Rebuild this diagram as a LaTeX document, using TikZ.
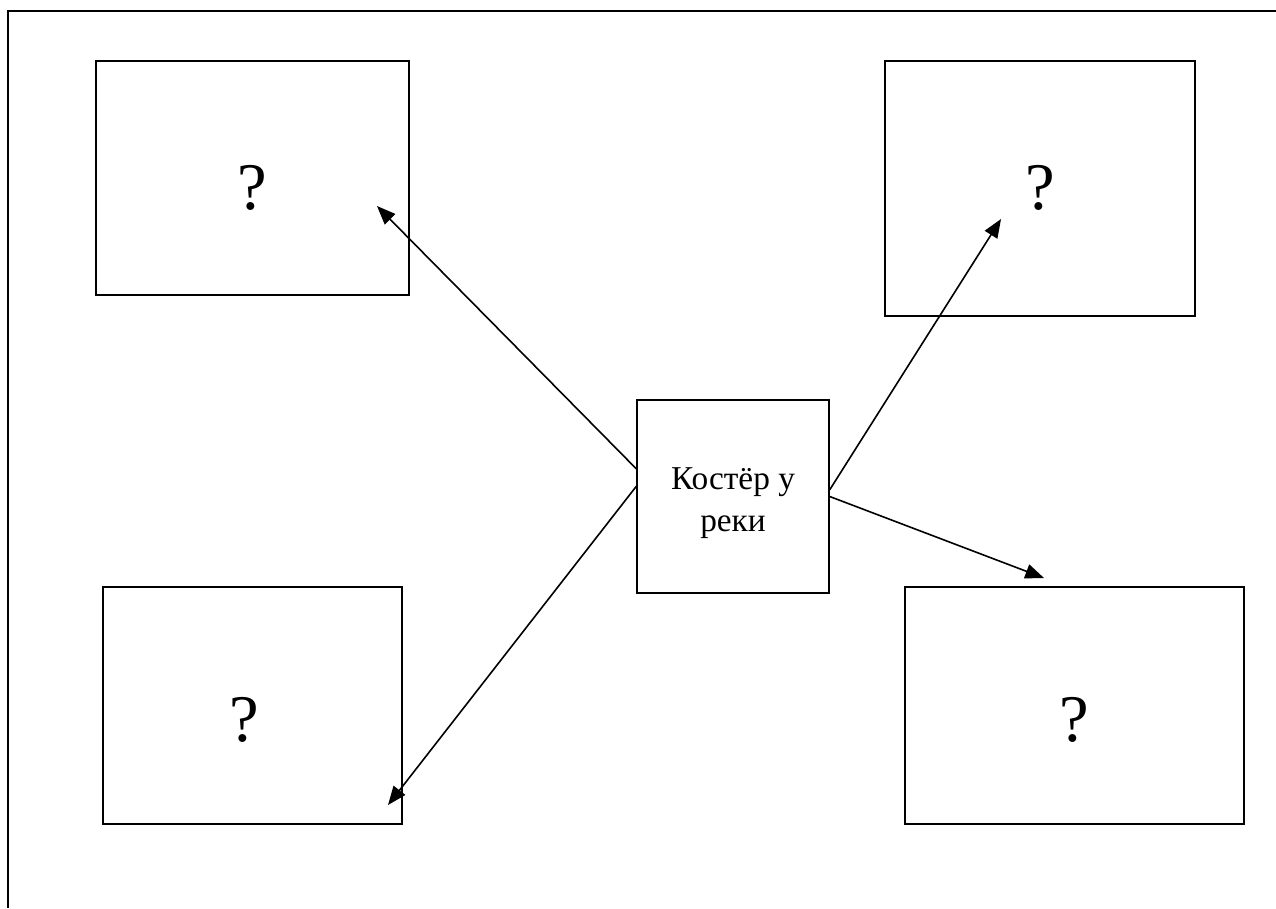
\documentclass[tikz,border=0pt]{standalone}
\usepackage{fontspec}
\setmainfont{Liberation Serif}
\usetikzlibrary{arrows.meta, calc}

\begin{document}
\begin{tikzpicture}[
    x=0.75pt, y=-0.75pt,
    >={Triangle[length=14pt, width=11pt]},
    box/.style={draw, line width=1.1pt, inner sep=0pt},
    ask/.style={font=\fontsize{50}{60}\selectfont},
    link/.style={->, line width=1.2pt}
]

\useasboundingbox (0,0) rectangle (1276,908);

% --- Outer frame (only top and left edges fall on the page) ---
\draw[line width=1.6pt] (8,908) -- (8,11) -- (1276,11);

% --- Boxes (pixel coordinates of the sheet) ---
\node[box, minimum width=313*0.75pt, minimum height=234*0.75pt] (tl) at (252.5,178) {};
\node[box, minimum width=310*0.75pt, minimum height=255*0.75pt] (tr) at (1040,188.5) {};
\node[box, minimum width=299*0.75pt, minimum height=237*0.75pt] (bl) at (252.5,705.5) {};
\node[box, minimum width=339*0.75pt, minimum height=237*0.75pt] (br) at (1074.5,705.5) {};

% --- Question marks ---
\node[ask] (qtl) at (252,188) {?};
\node[ask] (qtr) at (1040,188) {?};
\node[ask] (qbl) at (244,720) {?};
\node[ask] (qbr) at (1074,720) {?};

% --- Center box ---
\node[box, minimum width=192*0.75pt, minimum height=193*0.75pt] (ctr) at (733,496.5) {};
\node[align=center, font=\fontsize{25}{32}\selectfont] (txt) at (733,503)
    {Костёр у\\реки};

% --- Free ends of the arrows ---
\coordinate (etl) at (377,206);
\coordinate (etr) at (1001,219);
\coordinate (ebl) at (388,805);
\coordinate (ebr) at (1044,578);

% --- Arrows ---
\draw[link] (ctr.164) -- (etl);
\draw[link] (ctr.174) -- (ebl);
\draw[link] (ctr.4) -- (etr);
\draw[link] (ctr.east) -- (ebr);

\end{tikzpicture}
\end{document}
